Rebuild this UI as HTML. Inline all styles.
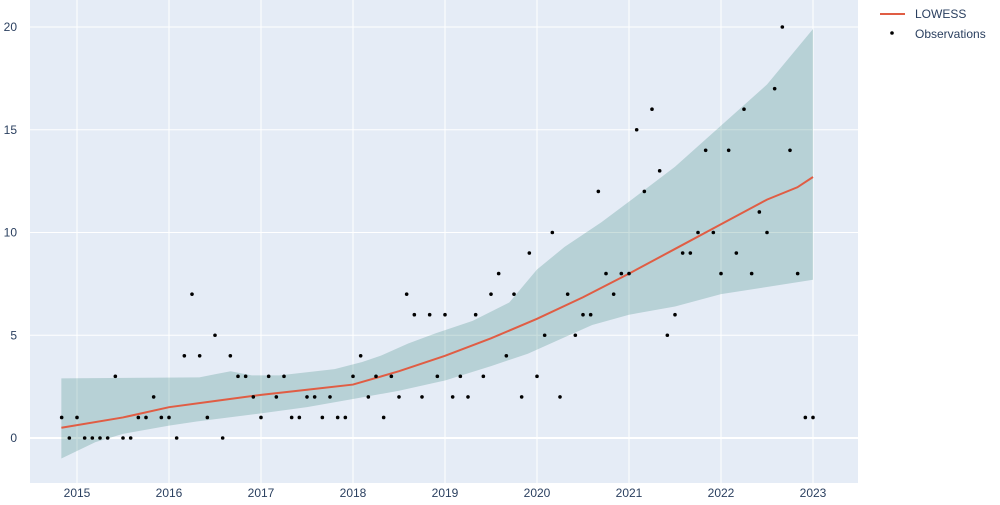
<!DOCTYPE html>
<html><head><meta charset="utf-8"><style>
body{margin:0;background:#fff;font-family:"Liberation Sans",sans-serif}
svg text{font-family:"Liberation Sans",sans-serif;font-size:12px;fill:#2a3f5f}
</style></head><body>
<svg id="chart" width="1000" height="500">
<rect x="30" y="0" width="828" height="483" fill="#e5ecf6"/>
<g id="grid"></g><g id="band"></g><g id="line"></g><g id="pts"></g><g id="axes"></g>
<g>
<line x1="880" y1="14" x2="905" y2="14" stroke="#e05d44" stroke-width="2"/>
<text x="915" y="18">LOWESS</text>
<circle cx="892" cy="33" r="1.8" fill="#000"/>
<text x="915" y="38">Observations</text>
</g>
</svg>
<script>
const obsStartYear = 2014, obsStartMonth = 10; // month index 0-based (Nov)
const obsValues = [1,0,1,0,0,0,0,3,0,0,1,1,2,1,1,0,4,7,4,1,5,0,4,3,3,2,1,3,2,3,1,1,2,2,1,2,1,1,3,4,2,3,1,3,2,7,6,2,6,3,6,2,3,2,6,3,7,8,4,7,2,9,3,5,10,2,7,5,6,6,12,8,7,8,8,15,12,16,13,5,6,9,9,10,14,10,8,14,9,16,8,11,10,17,20,14,8,1,1];
const lowessT = [2014.83,2015.5,2016,2016.5,2017,2017.5,2018,2018.5,2019,2019.5,2020,2020.5,2021,2021.5,2022,2022.5,2022.83,2023];
const lowessV = [0.5,1.0,1.5,1.8,2.1,2.35,2.6,3.25,4.0,4.85,5.8,6.85,8.0,9.2,10.4,11.6,12.2,12.7];
const upperT = [2014.83,2016.33,2016.5,2016.67,2016.9,2017.2,2017.8,2018.1,2018.3,2018.6,2018.9,2019.3,2019.7,2020,2020.3,2020.7,2021,2021.5,2022,2022.5,2023];
const upperV = [2.9,2.95,3.1,3.25,3.05,3.05,3.35,3.7,4.0,4.6,5.1,5.7,6.6,8.2,9.3,10.5,11.5,13.2,15.2,17.2,19.9];
const lowerT = [2014.83,2015.2,2015.5,2016,2016.3,2017,2017.5,2018,2018.5,2019,2019.5,2019.9,2020.3,2020.6,2021,2021.5,2022,2023];
const lowerV = [-1.0,-0.2,0.2,0.6,0.8,1.2,1.5,1.9,2.3,2.8,3.5,4.1,4.9,5.5,6.0,6.4,7.0,7.7];
const xTicks = [2015,2016,2017,2018,2019,2020,2021,2022,2023];
const yTicks = [0,5,10,15,20];
const X = t => 77 + (t - 2015) * 92;
const Y = v => 438 - v * 20.55;
const NS = 'http://www.w3.org/2000/svg';
function mk(tag, attrs, parent){const e=document.createElementNS(NS,tag);for(const k in attrs)e.setAttribute(k,attrs[k]);document.getElementById(parent).appendChild(e);return e;}
xTicks.forEach(t=>{
  const l=mk('line',{x1:X(t),x2:X(t),y1:0,y2:483,stroke:'#fff','stroke-width':1},'grid');
  
  
  const tx=mk('text',{x:X(t),y:497,'text-anchor':'middle'},'axes');tx.textContent=t;
  
  
});
yTicks.forEach(v=>{
  const l=mk('line',{x1:30,x2:858,y1:Y(v),y2:Y(v),stroke:'#fff','stroke-width':v===0?2:1},'grid');
  
  
  const tx=mk('text',{x:17,y:Y(v)+4,'text-anchor':'end'},'axes');tx.textContent=v;
  
  
});
let d='M'+upperT.map((t,i)=>X(t)+','+Y(upperV[i])).join('L');
for(let i=lowerT.length-1;i>=0;i--)d+='L'+X(lowerT[i])+','+Y(lowerV[i]);
const band=mk('path',{d:d+'Z',fill:'rgba(47,126,121,0.25)'},'band');


const ln=mk('path',{d:'M'+lowessT.map((t,i)=>X(t)+','+Y(lowessV[i])).join('L'),fill:'none',stroke:'#e05d44','stroke-width':2},'line');


obsValues.forEach((v,i)=>{
  const t=obsStartYear+(obsStartMonth+i)/12;
  const c=mk('circle',{cx:X(t),cy:Y(v),r:1.8,fill:'#000'},'pts');
  
  
});
</script>
</body></html>
